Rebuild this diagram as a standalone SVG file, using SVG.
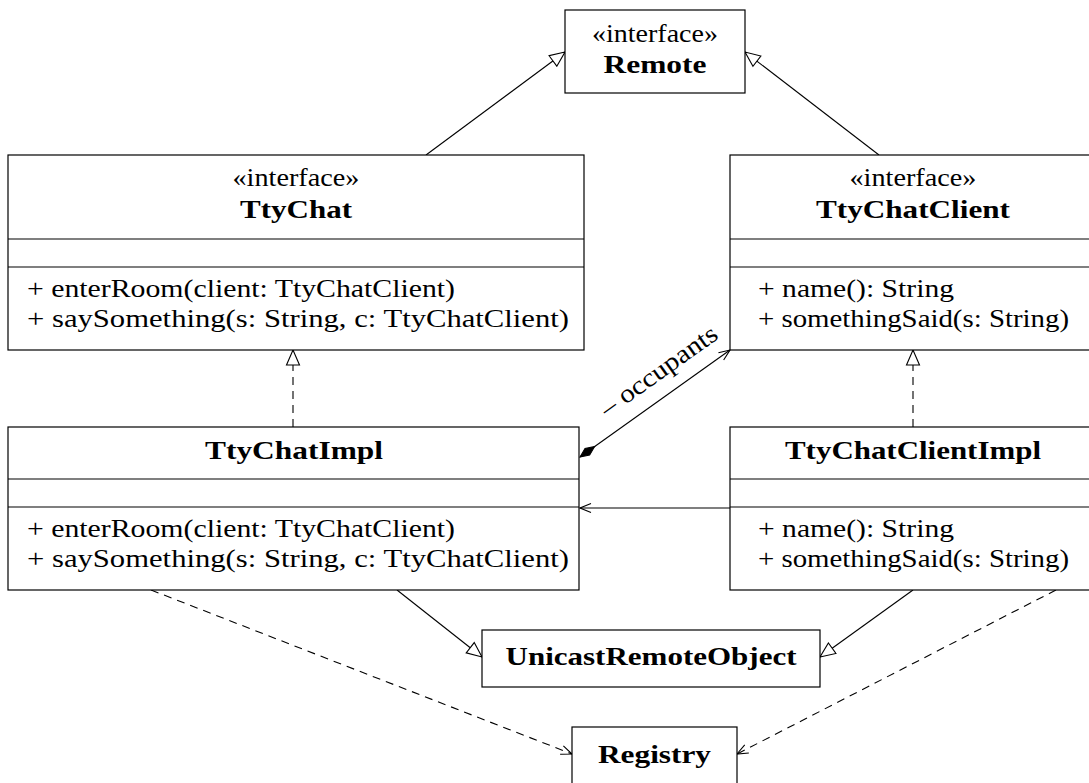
<svg xmlns="http://www.w3.org/2000/svg" width="1089" height="783" viewBox="0 0 1089 783">
<style>
.box{fill:#fff;stroke:#000;stroke-width:1.2}
.sep{stroke:#000;stroke-width:1.2}
.t{font-family:'Liberation Serif','DejaVu Serif','Times New Roman',serif;font-size:26px;fill:#000}
.b{font-weight:bold}
.c{text-anchor:middle}
.ln{fill:none;stroke:#000;stroke-width:1.1}
.dash{stroke-dasharray:8 6}
</style>
<defs>
<marker id="tri" viewBox="-16 -8 17 16" refX="0" refY="0" markerWidth="17" markerHeight="16" markerUnits="userSpaceOnUse" orient="auto">
<path d="M0,0 L-15,-6.5 L-15,6.5 Z" fill="#fff" stroke="#000" stroke-width="1.1"/>
</marker>
<marker id="open" viewBox="-13 -7 14 14" refX="0" refY="0" markerWidth="14" markerHeight="14" markerUnits="userSpaceOnUse" orient="auto">
<path d="M-11,-4.5 L0,0 L-11,4.5" fill="none" stroke="#000" stroke-width="1.1"/>
</marker>
<marker id="dia" viewBox="-1 -6 21 12" refX="0" refY="0" markerWidth="21" markerHeight="12" markerUnits="userSpaceOnUse" orient="auto">
<path d="M0,0 L9,-4 L18,0 L9,4 Z" fill="#000" stroke="#000" stroke-width="1"/>
</marker>
</defs>

<g id="connectors">
<line class="ln" x1="426" y1="155" x2="565" y2="52" marker-end="url(#tri)"/>
<line class="ln" x1="879" y1="155" x2="745" y2="52" marker-end="url(#tri)"/>
<line class="ln dash" x1="293" y1="427" x2="293" y2="350" marker-end="url(#tri)"/>
<line class="ln dash" x1="913" y1="427" x2="913" y2="350" marker-end="url(#tri)"/>
<line class="ln" x1="580" y1="457" x2="730" y2="350" marker-start="url(#dia)" marker-end="url(#open)"/>
<text class="t c" font-family="Liberation Serif, DejaVu Serif, serif" transform="translate(655,403.5) rotate(-35.5)" x="22" y="-16" textLength="138" lengthAdjust="spacingAndGlyphs">– occupants</text>
<line class="ln" x1="730" y1="508" x2="580" y2="508" marker-end="url(#open)"/>
<line class="ln" x1="397" y1="590" x2="482" y2="657" marker-end="url(#tri)"/>
<line class="ln" x1="913" y1="590" x2="820" y2="657" marker-end="url(#tri)"/>
<line class="ln dash" x1="151" y1="590" x2="572" y2="754" marker-end="url(#open)"/>
<line class="ln dash" x1="1056" y1="590" x2="737" y2="754" marker-end="url(#open)"/>
</g>

<g id="Remote">
<rect class="box" x="565" y="10" width="180" height="83"/>
<text class="t c" x="655" y="42" textLength="126" lengthAdjust="spacingAndGlyphs">«interface»</text>
<text class="t b c" x="655" y="73" textLength="103" lengthAdjust="spacingAndGlyphs">Remote</text>
</g>

<g id="TtyChat">
<rect class="box" x="8" y="155" width="576" height="195"/>
<line class="sep" x1="8" y1="239" x2="584" y2="239"/>
<line class="sep" x1="8" y1="267" x2="584" y2="267"/>
<text class="t c" x="296" y="186" textLength="127" lengthAdjust="spacingAndGlyphs">«interface»</text>
<text class="t b c" x="296" y="218" textLength="112" lengthAdjust="spacingAndGlyphs">TtyChat</text>
<text class="t" x="27" y="297" textLength="428" lengthAdjust="spacingAndGlyphs">+ enterRoom(client: TtyChatClient)</text>
<text class="t" x="27" y="327" textLength="542" lengthAdjust="spacingAndGlyphs">+ saySomething(s: String, c: TtyChatClient)</text>
</g>

<g id="TtyChatClient">
<rect class="box" x="730" y="155" width="366" height="195"/>
<line class="sep" x1="730" y1="239" x2="1096" y2="239"/>
<line class="sep" x1="730" y1="267" x2="1096" y2="267"/>
<text class="t c" x="913" y="186" textLength="127" lengthAdjust="spacingAndGlyphs">«interface»</text>
<text class="t b c" x="913" y="218" textLength="194" lengthAdjust="spacingAndGlyphs">TtyChatClient</text>
<text class="t" x="758" y="297" textLength="196" lengthAdjust="spacingAndGlyphs">+ name(): String</text>
<text class="t" x="758" y="327" textLength="311" lengthAdjust="spacingAndGlyphs">+ somethingSaid(s: String)</text>
</g>

<g id="TtyChatImpl">
<rect class="box" x="8" y="427" width="571" height="163"/>
<line class="sep" x1="8" y1="479" x2="579" y2="479"/>
<line class="sep" x1="8" y1="507" x2="579" y2="507"/>
<text class="t b c" x="294" y="459" textLength="178" lengthAdjust="spacingAndGlyphs">TtyChatImpl</text>
<text class="t" x="27" y="537" textLength="428" lengthAdjust="spacingAndGlyphs">+ enterRoom(client: TtyChatClient)</text>
<text class="t" x="27" y="567" textLength="542" lengthAdjust="spacingAndGlyphs">+ saySomething(s: String, c: TtyChatClient)</text>
</g>

<g id="TtyChatClientImpl">
<rect class="box" x="730" y="427" width="366" height="163"/>
<line class="sep" x1="730" y1="479" x2="1096" y2="479"/>
<line class="sep" x1="730" y1="507" x2="1096" y2="507"/>
<text class="t b c" x="913" y="459" textLength="256" lengthAdjust="spacingAndGlyphs">TtyChatClientImpl</text>
<text class="t" x="758" y="537" textLength="196" lengthAdjust="spacingAndGlyphs">+ name(): String</text>
<text class="t" x="758" y="567" textLength="311" lengthAdjust="spacingAndGlyphs">+ somethingSaid(s: String)</text>
</g>

<g id="UnicastRemoteObject">
<rect class="box" x="482" y="630" width="338" height="57"/>
<text class="t b c" x="651" y="665" textLength="291" lengthAdjust="spacingAndGlyphs">UnicastRemoteObject</text>
</g>

<g id="Registry">
<rect class="box" x="572" y="727" width="165" height="70"/>
<text class="t b c" x="654.5" y="763" textLength="113" lengthAdjust="spacingAndGlyphs">Registry</text>
</g>
</svg>
